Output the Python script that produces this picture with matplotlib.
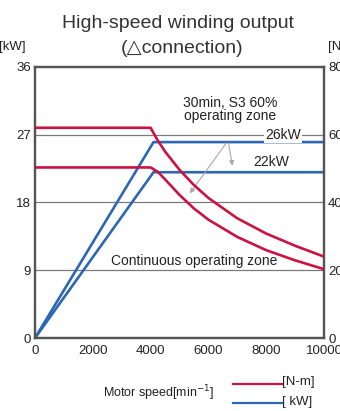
import matplotlib
matplotlib.use("Agg")
import matplotlib.pyplot as plt

plt.rcParams["font.family"] = ["Liberation Sans", "DejaVu Sans"]

# output power [kW] vs motor speed
speed_kw = [0, 4100, 10000]
kw_s3 = [0, 26, 26]
kw_cont = [0, 22, 22]

# torque [N-m] vs motor speed
speed_nm = [0, 4000, 4250, 4500, 5000, 5500, 6000, 7000, 8000, 9000, 10000]
nm_s3 = [62, 62, 58.2, 55.0, 49.6, 45.1, 41.3, 35.3, 30.8, 27.2, 24.0]
nm_cont = [50.3, 50.3, 49.0, 46.8, 42.2, 38.2, 34.9, 29.8, 25.9, 22.9, 20.3]

kw_ticks = [0, 9, 18, 27, 36]
nm_ticks = [0, 20, 40, 60, 80]
speed_ticks = [0, 2000, 4000, 6000, 8000, 10000]

RED = "#cc1241"
BLUE = "#2b67b2"
SPINE = "#555555"
GRID = "#7a7a7a"
TXT = "#222222"

fig = plt.figure(figsize=(3.4, 4.11), dpi=100)
ax = fig.add_axes([0.103, 0.1776, 0.850, 0.660])
ax2 = ax.twinx()

ax.set_xlim(0, 10000)
ax.set_ylim(0, 36)
ax2.set_ylim(0, 80)
ax.set_xticks(speed_ticks)
ax.set_yticks(kw_ticks)
ax2.set_yticks(nm_ticks)

for a in (ax, ax2):
    for s in a.spines.values():
        s.set_color(SPINE)
        s.set_linewidth(1.6)
    a.tick_params(length=0, labelsize=9.5, colors=TXT, pad=3)
ax.tick_params(axis="x", pad=5)

for y in kw_ticks[1:-1]:
    ax.axhline(y, color=GRID, lw=0.9, zorder=1)

ax.plot(speed_kw, kw_s3, color=BLUE, lw=1.9, zorder=3)
ax.plot(speed_kw, kw_cont, color=BLUE, lw=1.9, zorder=3)
ax2.plot(speed_nm, nm_s3, color=RED, lw=1.9, zorder=3)
ax2.plot(speed_nm, nm_cont, color=RED, lw=1.9, zorder=3)

# zone annotations
ax.text(8580, 27, "26kW", ha="center", va="center", fontsize=10, color=TXT,
        bbox=dict(facecolor="white", edgecolor="none", pad=1), zorder=4)
ax.text(8180, 23.3, "22kW", ha="center", va="center", fontsize=10, color=TXT, zorder=4)
ax.text(5500, 10.2, "Continuous operating zone", ha="center", va="center",
        fontsize=10, color=TXT, zorder=4)
ax.text(6750, 30.3, "30min, S3 60%\noperating zone", ha="center", va="center",
        fontsize=10, color=TXT, linespacing=0.95, zorder=4)

arrow = dict(arrowstyle="-|>", color="#a8a8a8", lw=0.8, mutation_scale=7)
ax.annotate("", xy=(5300, 18.9), xytext=(6680, 26.2), arrowprops=arrow, zorder=4)
ax.annotate("", xy=(6850, 22.5), xytext=(6680, 26.2), arrowprops=arrow, zorder=4)

# titles and unit labels
fig.text(0.525, 0.943, "High-speed winding output", ha="center", va="center",
         fontsize=14, color="#333333")
fig.text(0.535, 0.883, "(\u25b3connection)", ha="center", va="center",
         fontsize=14, color="#333333")
fig.text(0.075, 0.885, "[kW]", ha="right", va="center", fontsize=9.5, color=TXT)
fig.text(0.965, 0.885, "[N-m]", ha="left", va="center", fontsize=9.5, color=TXT)

# legend block under the axes
fig.text(0.465, 0.043, "Motor speed[min$^{-1}$]", ha="center", va="center",
         fontsize=9, color=TXT)
fig.lines.append(plt.Line2D([0.685, 0.830], [0.066, 0.066], color=RED, lw=1.6,
                            transform=fig.transFigure))
fig.lines.append(plt.Line2D([0.685, 0.830], [0.020, 0.020], color=BLUE, lw=1.6,
                            transform=fig.transFigure))
fig.text(0.828, 0.071, "[N-m]", ha="left", va="center", fontsize=9.5, color=TXT)
fig.text(0.828, 0.023, "[ kW]", ha="left", va="center", fontsize=9.5, color=TXT)

fig.savefig("out.png", dpi=100)
